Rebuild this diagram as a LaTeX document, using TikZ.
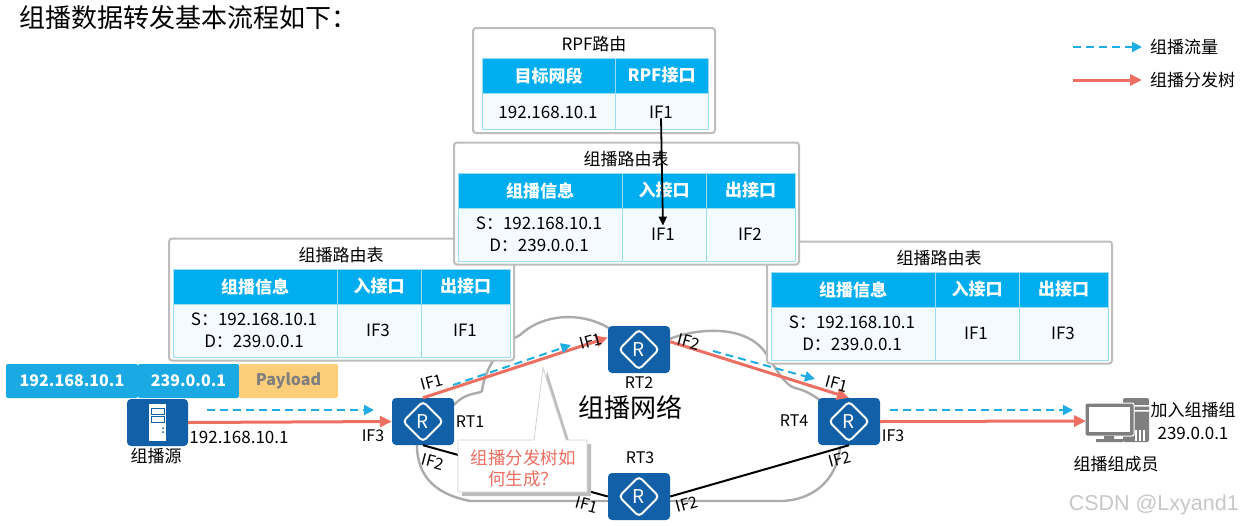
\documentclass[tikz,border=0pt]{standalone}
\usepackage{fontspec}
\usetikzlibrary{arrows.meta}
\setmainfont{Noto Sans CJK SC}
\newfontfamily\markfont{Liberation Sans}
\definecolor{hwblue}{HTML}{1160A8}
\definecolor{headblue}{HTML}{00AEEF}
\definecolor{cellline}{HTML}{9ADDF5}
\definecolor{cellfill}{HTML}{F3FBFF}
\definecolor{barblue}{HTML}{1AA9E3}
\definecolor{barorange}{HTML}{FDCE7A}
\definecolor{treered}{HTML}{EC6F62}
\definecolor{flowblue}{HTML}{1FADE4}
\definecolor{boxgray}{HTML}{BDBDBD}
\definecolor{cloudgray}{HTML}{ABABAB}
\definecolor{pcgray}{HTML}{7F7F7F}
% table with three columns, local coordinates are those of the middle one
\newcommand{\mcasttable}[5]{
  \begin{scope}[shift={(#2,#3)}]
    \node[tablebox,minimum width=345pt,minimum height=122pt] (#1box) at (626.5,203.5) {};
    \node[txt] (#1title) at (626,159) {组播路由表};
    \node[headcell,minimum width=164pt] (#1hinfo) at (540,190.5) {组播信息};
    \node[headcell,minimum width=84pt] (#1hin) at (664,190.5) {入接口};
    \node[headcell,minimum width=89pt] (#1hout) at (750.5,190.5) {出接口};
    \node[bodycell,minimum width=164pt] (#1binfo) at (540,234.5) {};
    \node[bodycell,minimum width=84pt] (#1bin) at (664,234.5) {};
    \node[bodycell,minimum width=89pt] (#1bout) at (750.5,234.5) {};
    \node[txt,align=center] (#1info) at (539,234) {S：192.168.10.1\\D：239.0.0.1};
    \node[txt] (#1inif) at (663,234) {#4};
    \node[txt] (#1outif) at (750,234) {#5};
  \end{scope}
}
\begin{document}
\begin{tikzpicture}[x=1pt,y=-1pt,
  txt/.style={inner sep=0pt,font=\fontsize{17}{22}\selectfont},
  iflabel/.style={txt,font=\fontsize{16}{18}\selectfont},
  headcell/.style={draw=cellline,line width=0.8pt,fill=headblue,text=white,inner sep=0pt,minimum height=35pt,font=\bfseries\fontsize{17}{20}\selectfont},
  bodycell/.style={draw=cellline,line width=0.8pt,fill=cellfill,inner sep=0pt,minimum height=53pt},
  tablebox/.style={draw=boxgray,line width=2pt,fill=white,rounded corners=3pt,inner sep=0pt},
  tree/.style={treered,line width=3pt,-{Stealth[inset=0pt,length=12pt,width=11pt]}},
  flow/.style={flowblue,line width=2pt,-{Stealth[inset=0pt,length=10pt,width=10pt]},dash pattern=on 8pt off 5pt},
  link/.style={black,line width=2pt},
  bar/.style={rounded corners=2pt,inner sep=0pt,minimum height=34pt,text=white,font=\bfseries\fontsize{16}{20}\selectfont},
  cloudline/.style={cloudgray,line width=2.4pt},
  router/.style={fill=hwblue,rounded corners=4pt,inner sep=0pt,minimum width=62pt,minimum height=47pt,text=white,font=\fontsize{19}{20}\selectfont,
    path picture={\draw[white,line width=2pt] ([xshift=-20pt]path picture bounding box.center) -- ([yshift=20pt]path picture bounding box.center) -- ([xshift=20pt]path picture bounding box.center) -- ([yshift=-20pt]path picture bounding box.center) -- cycle;}}]
  \useasboundingbox (0,0) rectangle (1241,525);

  % cloud
  \draw[cloudline] (454,405) .. controls (465,392) and (480,394) .. (482,391)
    .. controls (484,370) and (500,345) .. (520,335)
    .. controls (545,312) and (585,312) .. (612,330)
    .. controls (640,345) and (660,345) .. (672,338)
    .. controls (700,328) and (745,325) .. (765,352)
    .. controls (778,372) and (785,385) .. (795,388)
    .. controls (805,390) and (815,396) .. (822,402);
  \draw[cloudline] (840,446) .. controls (838,480) and (812,501) .. (780,501)
    -- (665,501) -- (470,501)
    .. controls (440,495) and (417,480) .. (417,445);

  % devices
  \node[router] (rt1) at (423,421.5) {R};
  \node[router] (rt2) at (639,349.5) {R};
  \node[router] (rt3) at (639,496.5) {R};
  \node[router] (rt4) at (849,421.5) {R};
  \node[fill=hwblue,rounded corners=4pt,minimum width=61pt,minimum height=47pt,inner sep=0pt] (src) at (157.5,422.5) {};
  \fill[white] (149,404) rectangle (166,441);
  \draw[hwblue,line width=1pt] (151,408) rectangle (164,414) (151,416) rectangle (164,422);
  \fill[hwblue] (163,428) circle (1pt) (163,432) circle (1pt);

  % member pc
  \fill[pcgray,rounded corners=2pt] (1123,398) rectangle (1149,442);
  \fill[white] (1134,405) rectangle (1149,406.5) (1134,410) rectangle (1149,411.5);
  \foreach \i in {1135,1139,1143} \fill[white] (\i,430) rectangle (\i+1.5,441);
  \draw[white,line width=1pt,fill=pcgray,rounded corners=2pt] (1085,403) rectangle (1134,436);
  \node[fill=white,inner sep=0pt,minimum width=41pt,minimum height=25pt] (pcscreen) at (1109.5,419.5) {};
  \fill[pcgray] (1104,436) rectangle (1114,439) (1096,439) rectangle (1123,442);
  \coordinate (pc) at (1086,421);

  % links
  \draw[link] (rt1.south) -- (rt3.west);
  \draw[link] (rt3.east) -- (rt4.south);
  \draw[tree] (src.east) -- (rt1.west);
  \draw[tree] (rt1.north) -- (rt2.159);
  \draw[tree] (rt2.14) -- (rt4.north);
  \draw[tree] (rt4.east) -- (pc);

  % flow
  \coordinate (fa1) at (207,410);
  \coordinate (fa2) at (374,410);
  \coordinate (fb1) at (453,385);
  \coordinate (fb2) at (571,345);
  \coordinate (fc1) at (713,351);
  \coordinate (fc2) at (815,379);
  \coordinate (fd1) at (890,410);
  \coordinate (fd2) at (1073,410);
  \draw[flow] (fa1) -- (fa2);
  \draw[flow] (fb1) -- (fb2);
  \draw[flow] (fc1) -- (fc2);
  \draw[flow] (fd1) -- (fd2);

  % packet
  \node[bar,fill=barblue,minimum width=132pt] (pktsrc) at (72,381) {192.168.10.1};
  \node[bar,fill=barblue,minimum width=101pt] (pktdst) at (188.5,381) {239.0.0.1};
  \node[bar,fill=barorange,text=pcgray,minimum width=99pt] (pktdata) at (288.5,381) {Payload};

  % tables
  \mcasttable{l}{-285}{96}{IF3}{IF1}
  \mcasttable{r}{313}{99}{IF1}{IF3}
  \mcasttable{c}{0}{0}{IF1}{IF2}

  % rpf table
  \node[tablebox,minimum width=242pt,minimum height=105pt] (rpfbox) at (594,80.5) {};
  \node[txt] (rpftitle) at (594,44) {RPF路由};
  \node[headcell,minimum width=133pt] (rpfhnet) at (548.5,75.5) {目标网段};
  \node[headcell,minimum width=93pt] (rpfhif) at (661.5,75.5) {RPF接口};
  \node[bodycell,minimum width=133pt,minimum height=36pt] (rpfbnet) at (548.5,111) {};
  \node[bodycell,minimum width=93pt,minimum height=36pt] (rpfbif) at (661.5,111) {};
  \node[txt] (rpfnet) at (548,112) {192.168.10.1};
  \node[txt] (rpfif) at (661,112) {IF1};
  \draw[black,line width=1.8pt,-{Stealth[inset=0pt,length=9pt,width=8pt]},shorten >=2pt] (rpfif.south) -- (cinif.north);

  % callout
  \fill[boxgray] (538,444) -- (547,371) -- (570,444) -- (591,444) -- (591,496) -- (462,496) -- (462,444) -- cycle;
  \draw[boxgray!70,line width=0.8pt,fill=white] (458,440) -- (534,440) -- (543,368) -- (566,440) -- (587,440) -- (587,492) -- (458,492) -- cycle;
  \node[txt,align=center,text=treered,font=\fontsize{17.5}{21}\selectfont] (why) at (523,468.5) {组播分发树如\\何生成？};

  % labels
  \node[iflabel,rotate=15] (ifa) at (432,382) {IF1};
  \node[iflabel,rotate=15] (ifb) at (591,341) {IF1};
  \node[iflabel,rotate=-15] (ifc) at (689,342) {IF2};
  \node[iflabel,rotate=-15] (ifd) at (837,384) {IF1};
  \node[iflabel,rotate=15] (ife) at (840,459) {IF2};
  \node[iflabel,rotate=15] (iff) at (687,504) {IF2};
  \node[iflabel,rotate=-15] (ifg) at (587,505) {IF1};
  \node[iflabel,rotate=-15] (ifh) at (433,462) {IF2};
  \node[iflabel] (ifi) at (373,436) {IF3};
  \node[iflabel] (ifj) at (893,436) {IF3};
  \node[iflabel] (rtlabela) at (470,422) {RT1};
  \node[iflabel] (rtlabelb) at (639,383) {RT2};
  \node[iflabel] (rtlabelc) at (640,458) {RT3};
  \node[iflabel] (rtlabeld) at (794,421) {RT4};
  \node[txt] (srcip) at (239,437) {192.168.10.1};
  \node[txt] (srcname) at (156,456) {组播源};
  \node[txt,font=\fontsize{26}{30}\selectfont] (netname) at (630,407) {组播网络};
  \node[txt,align=center,font=\fontsize{17}{23}\selectfont] (join) at (1193,420.5) {加入组播组\\239.0.0.1};
  \node[txt] (member) at (1116,464) {组播组成员};
  \node[txt,anchor=west,font=\fontsize{26}{30}\selectfont] (headline) at (19,18) {组播数据转发基本流程如下：};

  % legend
  \coordinate (lga) at (1073,47);
  \node[txt,anchor=west] (lgflow) at (1150,47) {组播流量};
  \draw[flow,shorten >=8pt] (lga) -- (lgflow.west);
  \coordinate (lgb) at (1073,80);
  \node[txt,anchor=west] (lgtree) at (1150,80) {组播分发树};
  \draw[tree,shorten >=8pt] (lgb) -- (lgtree.west);

  \node[inner sep=0pt,text=black!22,font=\markfont\fontsize{21.5}{24}\selectfont,anchor=east] (mark) at (1239,505) {CSDN @Lxyand1};
\end{tikzpicture}
\end{document}
